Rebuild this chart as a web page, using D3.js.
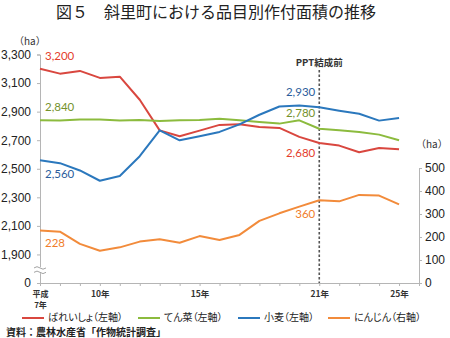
<!DOCTYPE html>
<html>
<head>
<meta charset="utf-8">
<script src="https://cdn.jsdelivr.net/npm/d3@7"></script>
<style>
  body { margin: 0; background: #fff; }
  svg { display: block; }
</style>
</head>
<body>
<div id="chart"></div>
<script>
// Planted area by crop, Heisei 7 - 25 (ha)
const years = [7, 8, 9, 10, 11, 12, 13, 14, 15, 16, 17, 18, 19, 20, 21, 22, 23, 24, 25, 26];
const potato = [3200, 3166, 3185, 3136, 3145, 2983, 2769, 2727, 2767, 2807, 2811, 2793, 2786, 2723, 2680, 2662, 2616, 2646, 2637];
const beet = [2840, 2837, 2844, 2844, 2837, 2842, 2835, 2840, 2842, 2850, 2840, 2828, 2816, 2839, 2780, 2769, 2758, 2739, 2699];
const wheat = [2560, 2539, 2488, 2416, 2449, 2588, 2769, 2699, 2727, 2758, 2811, 2878, 2936, 2943, 2930, 2906, 2885, 2837, 2855];
const carrot = [228, 223, 170, 140, 155, 180, 190, 175, 204, 187, 209, 270, 303, 332, 360, 355, 383, 380, 342];

const leftTicks = [1700, 1900, 2100, 2300, 2500, 2700, 2900, 3100, 3300]; // 1700 stands for the broken "0"
const rightTicks = [0, 100, 200, 300, 400, 500];
const xLabels = { 10: "10年", 15: "15年", 21: "21年", 25: "25年" };

const series = [
  { name: "ばれいしょ（左軸）", values: potato, axis: "left", color: "#d9473f", labelColor: "#e43d2c",
    first: { text: "3,200", dy: -12 }, mark: { text: "2,680", dy: 11 } },
  { name: "てん菜（左軸）", values: beet, axis: "left", color: "#8cbb3e", labelColor: "#74922c",
    first: { text: "2,840", dy: -12 }, mark: { text: "2,780", dy: -15 } },
  { name: "小麦（左軸）", values: wheat, axis: "left", color: "#2b78bd", labelColor: "#2b5d9c",
    first: { text: "2,560", dy: 15 }, mark: { text: "2,930", dy: -14 } },
  { name: "にんじん（右軸）", values: carrot, axis: "right", color: "#f28b3b", labelColor: "#f07d2a",
    first: { text: "228", dy: 14 }, mark: { text: "360", dy: 15 } }
];

const width = 450, height = 338;
const jp = "'Noto Sans CJK JP', 'Noto Sans', sans-serif";
const num = "'Liberation Sans', Arial, sans-serif";
const lbl = "Lato, 'Liberation Sans', sans-serif";

const svg = d3.select("#chart").append("svg")
  .attr("width", width)
  .attr("height", height);

const x = d3.scalePoint().domain(years).range([40, 419]);
const yL = d3.scaleLinear().domain([1700, 3300]).range([283, 54.5]);
const yR = d3.scaleLinear().domain([0, 500]).range([283, 168]);

// title
svg.append("text")
  .attr("x", 216).attr("y", 18)
  .attr("text-anchor", "middle")
  .style("font-family", jp).style("font-size", "16px").style("fill", "#222")
  .text("図５　斜里町における品目別作付面積の推移");

// unit labels
svg.append("text").attr("x", 14).attr("y", 45)
  .style("font-family", jp).style("font-size", "10px").style("fill", "#333").text("（ha）");
svg.append("text").attr("x", 416).attr("y", 148)
  .style("font-family", jp).style("font-size", "10px").style("fill", "#333").text("（ha）");

const axisColor = "#b5b5b5";

// left axis
const leftAxis = svg.append("g")
  .attr("transform", "translate(40,0)")
  .call(d3.axisLeft(yL).tickValues(leftTicks).tickSize(3).tickPadding(6)
    .tickFormat(d => d === 1700 ? "0" : d3.format(",")(d)));
leftAxis.select(".domain").attr("stroke", axisColor);
leftAxis.selectAll(".tick line").attr("stroke", axisColor);
leftAxis.selectAll(".tick text").style("font-family", num).style("font-size", "12px").style("fill", "#222");

// break mark on the left axis
const brk = svg.append("g").attr("transform", `translate(40,${yL(1790)})`);
brk.append("rect").attr("x", -6).attr("y", -3).attr("width", 12).attr("height", 6).attr("fill", "#fff");
[-2.2, 2.2].forEach(o => {
  brk.append("path")
    .attr("d", `M-6,${o} q3,-2.5 6,0 t6,0`)
    .attr("fill", "none").attr("stroke", "#999").attr("stroke-width", 0.9);
});

// right axis
const rightAxis = svg.append("g")
  .attr("transform", "translate(419,0)")
  .call(d3.axisRight(yR).tickValues(rightTicks).tickSize(3).tickPadding(3));
rightAxis.select(".domain").attr("stroke", axisColor);
rightAxis.selectAll(".tick line").attr("stroke", axisColor);
rightAxis.selectAll(".tick text").style("font-family", num).style("font-size", "12px").style("fill", "#222");

// x axis
const xAxis = svg.append("g")
  .attr("transform", "translate(0,283)")
  .call(d3.axisBottom(x).tickSize(3).tickFormat(d => xLabels[d] || ""));
xAxis.select(".domain").attr("stroke", axisColor);
xAxis.selectAll(".tick line").attr("stroke", axisColor);
xAxis.selectAll(".tick text")
  .attr("y", 8)
  .style("font-family", jp).style("font-size", "8.5px").style("font-weight", "bold").style("fill", "#333");

// first category label is split over two lines
const firstTick = xAxis.selectAll(".tick").filter(d => d === 7);
firstTick.select("text").remove();
firstTick.append("text").attr("y", 14).attr("text-anchor", "middle")
  .style("font-family", jp).style("font-size", "8px").style("font-weight", "bold").style("fill", "#333")
  .text("平成");
firstTick.append("text").attr("y", 24.5).attr("text-anchor", "middle")
  .style("font-family", jp).style("font-size", "8px").style("font-weight", "bold").style("fill", "#333")
  .text("7年");

// PPT marker
svg.append("line")
  .attr("x1", x(21)).attr("x2", x(21))
  .attr("y1", 70).attr("y2", 283)
  .attr("stroke", "#555").attr("stroke-width", 1.6).attr("stroke-dasharray", "2.5,2");
svg.append("text")
  .attr("x", x(21)).attr("y", 66).attr("text-anchor", "middle")
  .style("font-family", jp).style("font-size", "9.5px").style("font-weight", "bold").style("fill", "#333")
  .text("PPT結成前");

// lines
series.forEach(s => {
  const y = s.axis === "left" ? yL : yR;
  const line = d3.line()
    .x((d, i) => x(years[i]))
    .y(d => y(d));
  svg.append("path")
    .attr("d", line(s.values))
    .attr("fill", "none")
    .attr("stroke", s.color)
    .attr("stroke-width", 2)
    .attr("stroke-linejoin", "round");

  // value labels at start and at 21年
  svg.append("text")
    .attr("x", x(years[0]) + 5)
    .attr("y", y(s.values[0]) + s.first.dy)
    .attr("dominant-baseline", "middle")
    .style("font-family", lbl).style("font-size", "11.5px").style("fill", s.labelColor)
    .text(s.first.text);
  const i21 = years.indexOf(21);
  svg.append("text")
    .attr("x", x(21) - 4)
    .attr("y", y(s.values[i21]) + s.mark.dy)
    .attr("text-anchor", "end")
    .attr("dominant-baseline", "middle")
    .style("font-family", lbl).style("font-size", "11.5px").style("fill", s.labelColor)
    .text(s.mark.text);
});

// legend
const legendX = [22, 138, 238, 328];
const legend = svg.append("g").attr("transform", "translate(0,318)");
series.forEach((s, i) => {
  const g = legend.append("g").attr("transform", `translate(${legendX[i]},0)`);
  g.append("line").attr("x1", 0).attr("x2", 22).attr("stroke", s.color).attr("stroke-width", 2);
  g.append("text").attr("x", 26).attr("dominant-baseline", "middle")
    .style("font-family", jp).style("font-size", "10px").style("fill", "#222")
    .style("font-feature-settings", "'palt'")
    .text(s.name);
});

// source
svg.append("text")
  .attr("x", 6).attr("y", 336)
  .style("font-family", jp).style("font-size", "10px").style("font-weight", "bold").style("fill", "#222")
  .text("資料：農林水産省「作物統計調査」");
</script>
</body>
</html>
